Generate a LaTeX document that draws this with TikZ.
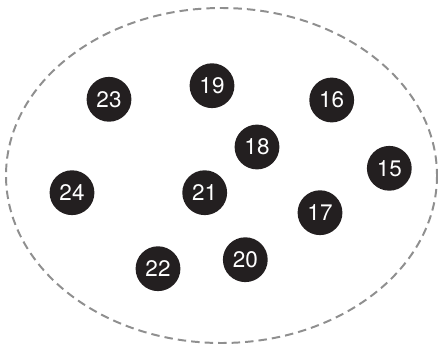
\documentclass[tikz,border=0pt]{standalone}
\usepackage{fontspec}
\setmainfont{TeX Gyre Heros}
\usepackage{xcolor}
\usepackage{tikz}
\definecolor{dotfill}{HTML}{231F20}
\definecolor{rim}{HTML}{8F8F8F}

\begin{document}
\begin{tikzpicture}[x=0.025cm,y=-0.025cm,
  n/.style={circle,fill=dotfill,text=white,minimum size=1.12cm,inner sep=0pt,font=\fontsize{16}{16}\selectfont},
  e/.style={draw=rim,line width=1.4pt,dash pattern=on 6pt off 3.6pt}]
\useasboundingbox (0,0) rectangle (438,347);
\draw[e] (221.5,175.5) ellipse [x radius=215.5, y radius=167.5];
\node[n] (n23) at (109,99.3) {23};
\node[n] (n19) at (212,85.7) {19};
\node[n] (n16) at (331.7,100) {16};
\node[n] (n18) at (257,147) {18};
\node[n] (n15) at (389.3,168.3) {15};
\node[n] (n24) at (72,192.7) {24};
\node[n] (n21) at (204.7,192.7) {21};
\node[n] (n17) at (320,212.7) {17};
\node[n] (n22) at (158,268.7) {22};
\node[n] (n20) at (245.3,259.7) {20};
\end{tikzpicture}
\end{document}
